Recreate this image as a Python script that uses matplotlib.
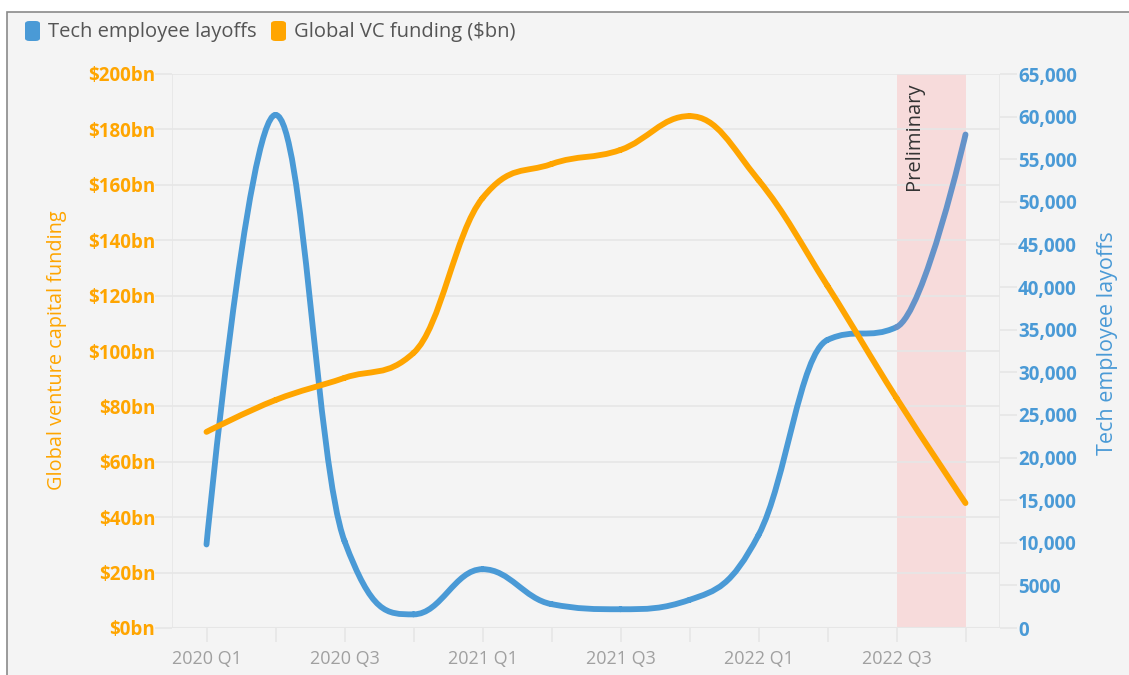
import matplotlib
matplotlib.use("Agg")
import matplotlib.pyplot as plt
from matplotlib.path import Path
from matplotlib.patches import PathPatch, Rectangle, FancyBboxPatch
from matplotlib.ticker import FixedLocator, FuncFormatter
import numpy as np

quarters = ["2020 Q1", "2020 Q2", "2020 Q3", "2020 Q4",
            "2021 Q1", "2021 Q2", "2021 Q3", "2021 Q4",
            "2022 Q1", "2022 Q2", "2022 Q3", "2022 Q4"]
layoffs = [9800, 60200, 10200, 1600, 6900, 2800, 2200, 3300, 10900, 33800, 35300, 57900]
vc_funding = [70.8, 82.3, 90.3, 99.3, 155.2, 167.5, 172.6, 184.8, 161.7, 123.5, 83.0, 45.1]
left_ticks = list(range(0, 201, 20))
right_ticks = list(range(0, 65001, 5000))
preliminary_from = 10   # index of 2022 Q3
preliminary_to = 11     # index of 2022 Q4

BLUE = "#4a9ad6"
BLUE_ZONE = "#6593c9"
ORANGE = "#ffa500"
BG = "#f4f4f4"
GRID = "#e6e6e6"
FONT = "Open Sans"


def spline_segments(xs, ys, smoothing=1.5):
    n = len(xs)
    denom = smoothing + 1
    lc = [None] * n
    rc = [None] * n
    for i in range(1, n - 1):
        px, py = xs[i], ys[i]
        lx, ly = xs[i - 1], ys[i - 1]
        nx, ny = xs[i + 1], ys[i + 1]
        lcx = (smoothing * px + lx) / denom
        lcy = (smoothing * py + ly) / denom
        rcx = (smoothing * px + nx) / denom
        rcy = (smoothing * py + ny) / denom
        corr = 0
        if rcx != lcx:
            corr = (rcy - lcy) * (rcx - px) / (rcx - lcx) + py - rcy
        lcy += corr
        rcy += corr
        if lcy > ly and lcy > py:
            lcy = max(ly, py)
            rcy = 2 * py - lcy
        elif lcy < ly and lcy < py:
            lcy = min(ly, py)
            rcy = 2 * py - lcy
        if rcy > ny and rcy > py:
            rcy = max(ny, py)
            lcy = 2 * py - rcy
        elif rcy < ny and rcy < py:
            rcy = min(ny, py)
            lcy = 2 * py - rcy
        lc[i] = (lcx, lcy)
        rc[i] = (rcx, rcy)
    segs = []
    for i in range(1, n):
        c1 = rc[i - 1] if rc[i - 1] is not None else (xs[i - 1], ys[i - 1])
        c2 = lc[i] if lc[i] is not None else (xs[i], ys[i])
        segs.append([(xs[i - 1], ys[i - 1]), c1, c2, (xs[i], ys[i])])
    return segs


def draw_spline(ax, xs, ys, color, lw, zone_from=None, zone_color=None, zorder=3):
    segs = spline_segments(xs, ys)
    main_verts, main_codes = [], []
    zone_verts, zone_codes = [], []
    for i, s in enumerate(segs):
        in_zone = zone_from is not None and i >= zone_from
        v, c = (zone_verts, zone_codes) if in_zone else (main_verts, main_codes)
        v.extend(s)
        c.extend([Path.MOVETO, Path.CURVE4, Path.CURVE4, Path.CURVE4])
    for v, c, col in ((main_verts, main_codes, color), (zone_verts, zone_codes, zone_color)):
        if v:
            ax.add_patch(PathPatch(Path(v, c), facecolor="none", edgecolor=col,
                                   lw=lw, capstyle="round", joinstyle="round",
                                   zorder=zorder))


fig = plt.figure(figsize=(11.29, 6.75), dpi=100)
fig.patch.set_facecolor("white")
W, H = 1129, 675
fig.add_artist(Rectangle((7 / W, -0.05), 1.1, 1 - 12 / H + 0.05, transform=fig.transFigure,
                         facecolor=BG, edgecolor="#8a8a8a", lw=1.2, zorder=0))

ax = fig.add_axes([172 / W, 1 - 628 / H, (1000 - 172) / W, (628 - 74) / H])
ax.set_facecolor(BG)
ax.patch.set_alpha(0)
ax2 = ax.twinx()

x = np.arange(len(quarters))
ax.set_xlim(-0.5, len(quarters) - 0.5)
ax.set_ylim(0, 200)
ax2.set_ylim(0, 65000)

# plot band
ax.axvspan(preliminary_from, preliminary_to, color="#f7dbdb", zorder=0.5, lw=0)
ax.text(preliminary_from + 0.25, 197, "Preliminary", rotation=90, ha="center", va="top",
        fontsize=14.5, color="#333333", family=FONT, zorder=2)

# gridlines
for v in left_ticks:
    ax.axhline(v, color=GRID, lw=1.2, zorder=0.8)

for a in (ax, ax2):
    for sp in a.spines.values():
        sp.set_visible(False)
ax.axvline(-0.5, color=GRID, lw=1.2, zorder=0.8)
ax.axvline(len(quarters) - 0.5, color=GRID, lw=1.2, zorder=0.8)

# left axis
ax.yaxis.set_major_locator(FixedLocator(left_ticks))
ax.yaxis.set_major_formatter(FuncFormatter(lambda v, p: f"${int(v)}bn"))
ax.tick_params(axis="y", length=12, color=GRID, width=1.2, pad=0,
               labelcolor=ORANGE, labelsize=13.5)
for t in ax.get_yticklabels():
    t.set_fontweight("bold")
    t.set_family(FONT)
ax.set_ylabel("Global venture capital funding", color=ORANGE, fontsize=14.3,
              family=FONT)
ax.yaxis.set_label_coords((67 - 172) / 828, 0.502)

# right axis
ax2.yaxis.set_major_locator(FixedLocator(right_ticks))
ax2.yaxis.set_major_formatter(FuncFormatter(
    lambda v, p: "0" if v == 0 else ("5000" if v == 5000 else f"{int(v):,}")))
ax2.tick_params(axis="y", length=12, color=GRID, width=1.2, pad=1,
                labelcolor=BLUE, labelsize=13.5)
for t in ax2.get_yticklabels():
    t.set_fontweight("bold")
    t.set_family(FONT)
ax2.set_ylabel("Tech employee layoffs", color=BLUE, fontsize=15.5, family=FONT)
ax2.yaxis.set_label_coords((1097 - 172) / 828, 0.515)

# x axis
ax.set_xticks(x)
ax.set_xticklabels([q if i % 2 == 0 else "" for i, q in enumerate(quarters)])
ax.tick_params(axis="x", length=10, color=GRID, width=1.2, pad=6,
               labelcolor="#a0a0a0", labelsize=13)
for t in ax.get_xticklabels():
    t.set_family(FONT)
ax.axhline(0, color=GRID, lw=1.5, zorder=0.9)

# series
draw_spline(ax2, list(x), layoffs, BLUE, 4.2, zone_from=preliminary_from,
            zone_color=BLUE_ZONE, zorder=3)
draw_spline(ax2, list(x), [v * 65000 / 200 for v in vc_funding], ORANGE, 4.2, zorder=4)

# legend
def legend_item(px, color, label):
    fig.add_artist(FancyBboxPatch((px / W, 1 - 41 / H), 15 / W, 20 / H,
                                  boxstyle="round,pad=0,rounding_size=0.004",
                                  transform=fig.transFigure, facecolor=color,
                                  edgecolor="none", zorder=5))
    fig.text((px + 23) / W, 1 - 32 / H, label, ha="left", va="center",
             fontsize=14.5, color="#555555", family=FONT)

legend_item(25, BLUE, "Tech employee layoffs")
legend_item(271, ORANGE, "Global VC funding ($bn)")

fig.savefig("out.png", dpi=100, facecolor=fig.get_facecolor())
